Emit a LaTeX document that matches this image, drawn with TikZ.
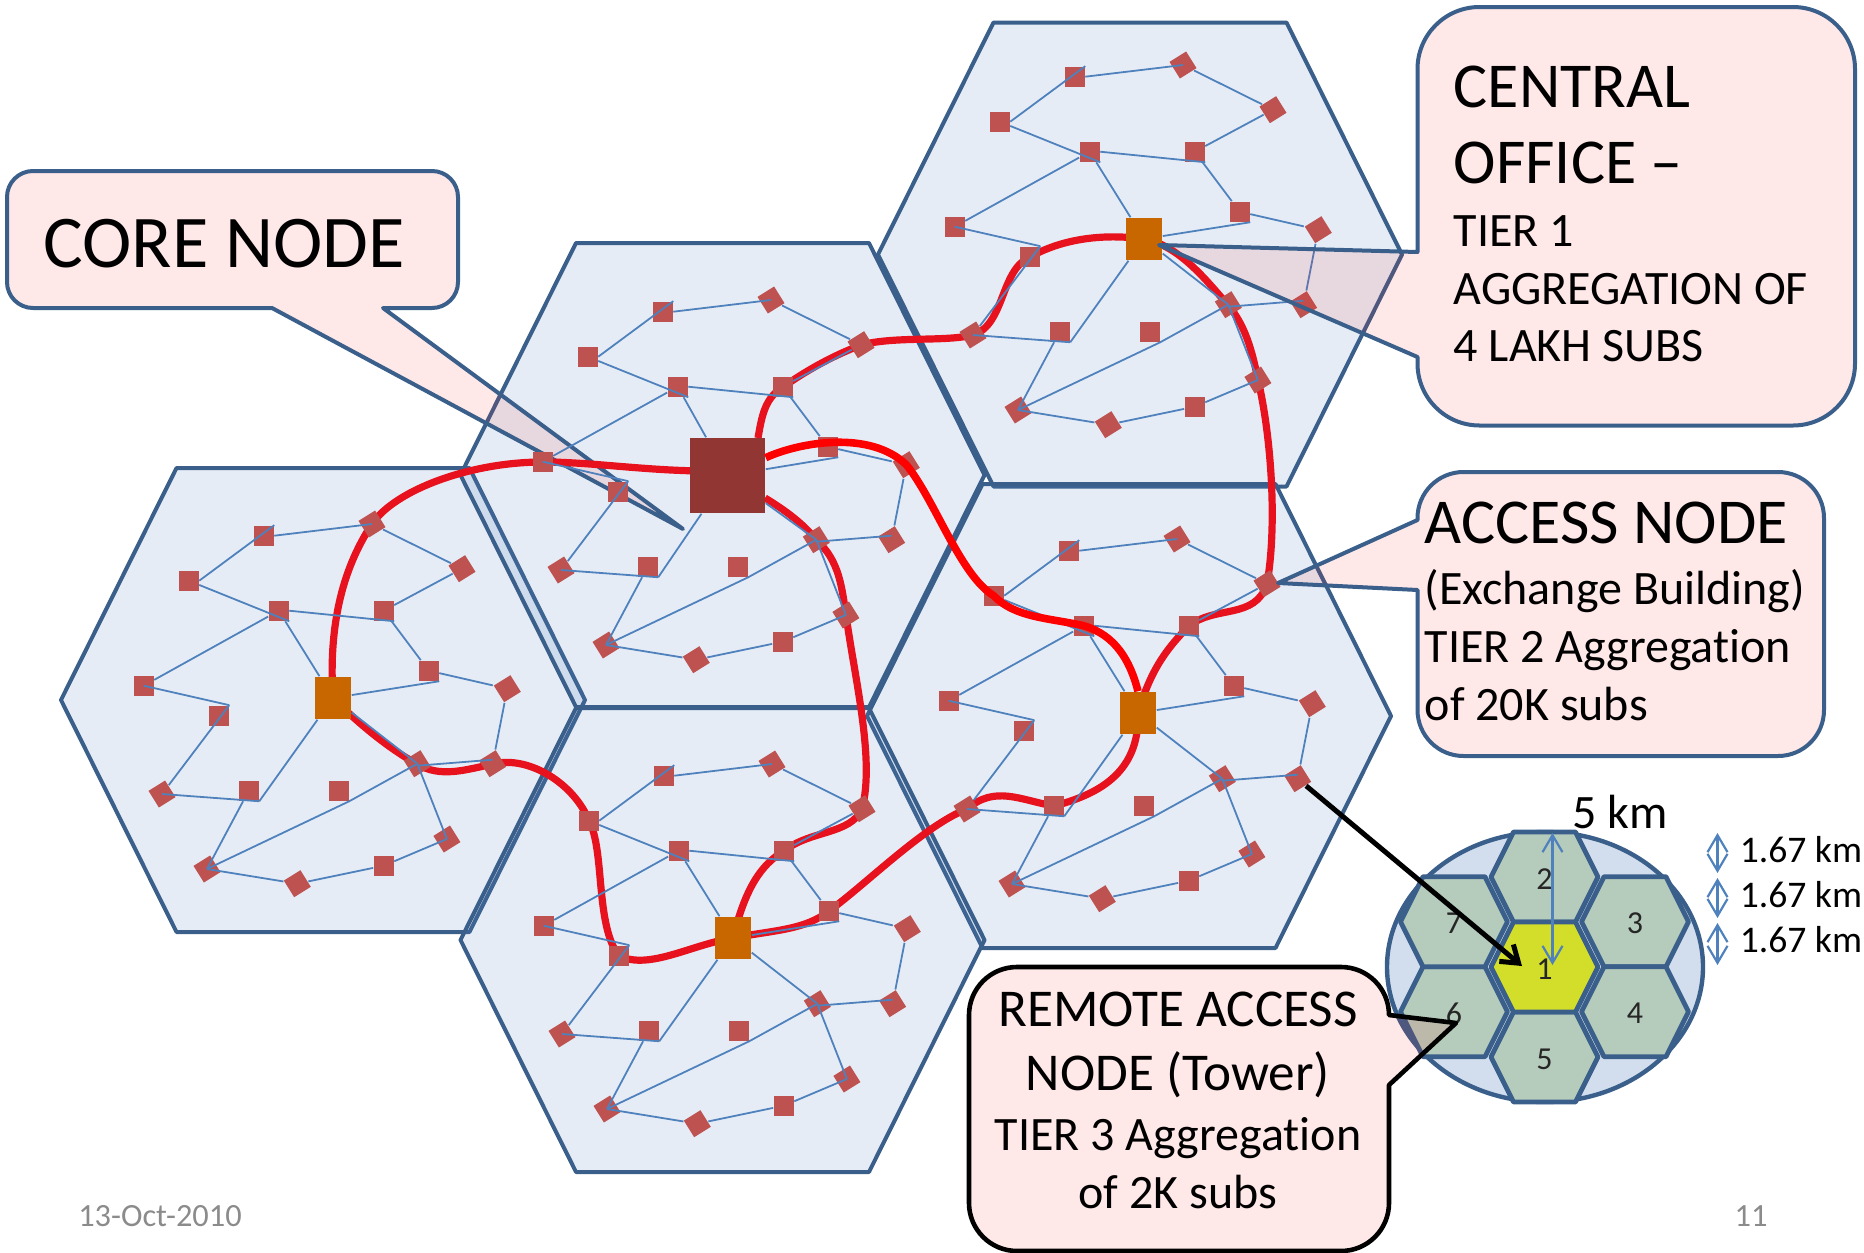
\documentclass[tikz,border=0pt]{standalone}
\usepackage{fontspec}
\setmainfont[Ligatures=NoCommon]{Carlito}
\usetikzlibrary{arrows.meta}

\definecolor{hexline}{RGB}{58,95,139}
\definecolor{netblue}{RGB}{79,129,189}
\definecolor{nodered}{RGB}{190,82,80}
\definecolor{hubor}{RGB}{200,102,0}
\definecolor{corered}{RGB}{146,54,52}
\definecolor{trunkred}{RGB}{232,18,30}
\definecolor{calloutred}{RGB}{255,30,30}
\definecolor{zonefill}{RGB}{210,222,238}
\definecolor{cellgreen}{RGB}{181,203,188}
\definecolor{cellyellow}{RGB}{210,222,42}
\definecolor{footgrey}{RGB}{139,139,139}

\tikzset{every picture/.style={line width=0.75pt},
  hexcell/.style={draw=hexline,line width=2pt,line join=round,fill=netblue,fill opacity=0.15},
  smallcell/.style={draw=hexline,line width=2.4pt,line join=round},
  sqnode/.style={fill=nodered,minimum width=9.8pt,minimum height=9.8pt,inner sep=0pt},
  dianode/.style={sqnode,rotate=32},
  hubnode/.style={fill=hubor,minimum width=18pt,minimum height=21pt,inner sep=0pt},
  corenode/.style={fill=corered,minimum width=37.5pt,minimum height=37.5pt,inner sep=0pt},
  netline/.style={draw=netblue,line width=0.9pt},
  trunk/.style={draw=trunkred,line width=3.6pt},
  trunktop/.style={draw=red,line width=3.8pt},
  callout/.style={draw=hexline,line width=2pt,fill=calloutred,fill opacity=0.1,line join=round},
  blackcallout/.style={callout,draw=black,line width=2.3pt},
  calltext/.style={inner sep=0pt,align=left,anchor=north west},
  bighead/.style={font=\fontsize{32}{38}\selectfont},
  subhead/.style={font=\fontsize{24}{28.8}\selectfont},
  kmarrow/.style={draw=netblue,line width=1.1pt,{Straight Barb[length=8.5pt,width=10pt]}-{Straight Barb[length=8.5pt,width=10pt]}},
  pointer/.style={draw=black,line width=2.5pt,-{Straight Barb[length=8pt,width=11pt]}}
}

\newcommand{\cellnet}[4]{%
  \foreach \k/\dx/\dy in {1/-69.3/-162.3,4/-144.3/-117.3,5/-54.3/-87.3,6/50.7/-87.3,7/95.7/-27.3,9/-189.3/-12.3,10/-114.3/17.7,14/-84.3/92.7,15/5.7/92.7,17/50.7/167.7}
    \node[sqnode] (#1n\k) at (#2+\dx,#3+\dy) {};
  \foreach \k/\dx/\dy in {2/39/-174,3/129/-129.3,8/174.3/-9.3,11/84.3/65.7,12/159.6/65.7,13/-171/96,16/113.9/141,18/-35.7/185.7,19/-126/171}
    \node[dianode] (#1n\k) at (#2+\dx,#3+\dy) {};
  #4
  \foreach \from/\to in {n4.east/n1.north east,n1.east/n2.center,n2/n3,n3/n6,n4/n5.south east,n5.east/n6.south east,n5/hub,n6/n7,n7/n8,hub/n7.south east,n5/n9,n9.center/n10.north east,n10.north east/n13,n13.center/n14.south east,n14.south east/hub,n8/n12,hub/n11.center,n11.center/n16.center,n16.center/n17,n17/n18,n18/n19.center,n19.center/n14}
    \draw[netline] (#1\from) -- (#1\to);
  \draw[netline] ([yshift=-2pt]#1n12.center) -- ([yshift=1pt]#1n11.center);
  \draw[netline] (#1n19.center) -- (#1n15.south east) -- (#1n11.center);
}

\begin{document}
\begin{tikzpicture}[x=0.5pt,y=0.5pt,yscale=-1]
\useasboundingbox (0,0) rectangle (1864,1253);

% Large cells
\foreach \cx/\cy in {323/700,722.5/475,1140/254.5,1129/716,722.5/940}
  \draw[hexcell] (\cx-262,\cy) -- (\cx-146.5,\cy-232) -- (\cx+146.5,\cy-232) -- (\cx+262,\cy) -- (\cx+146.5,\cy+232) -- (\cx-146.5,\cy+232) -- cycle;

% Core callout
\draw[callout] (272,308) [rounded corners=13pt] -- (7,308) -- (7,171) -- (458,171) -- (458,308) [sharp corners] -- (383,308) -- (683,529) -- cycle;

% Trunk curves, under the nodes
\coordinate (bcoretop) at (758,438);
\coordinate (bcoreright) at (765,498);
\draw[trunk] (333,698) .. controls (328,620) and (345,565) .. (372,524) .. controls (395,490) and (470,462) .. (543,462) .. controls (590,462) and (640,470) .. (700,471);
\draw[trunk] (bcoretop) .. controls (762,415) and (765,398) .. (783,387) .. controls (810,368) and (835,355) .. (861,345) .. controls (895,336) and (945,342) .. (973,335) .. controls (1005,325) and (1000,270) .. (1030,257) .. controls (1060,240) and (1100,233) .. (1144,239);
\draw[trunk] (1144,239) .. controls (1180,245) and (1210,285) .. (1228,305) .. controls (1245,325) and (1252,350) .. (1258,380) .. controls (1270,430) and (1278,520) .. (1267,584) .. controls (1255,620) and (1215,605) .. (1189,626) .. controls (1165,650) and (1150,672) .. (1138,713);
\draw[trunk] (bcoreright) .. controls (785,510) and (805,525) .. (816,540) .. controls (840,560) and (842,590) .. (846,615) .. controls (855,680) and (875,760) .. (862,809) .. controls (850,835) and (810,830) .. (784,851) .. controls (760,865) and (745,890) .. (733,938);
\draw[trunk] (333,698) .. controls (365,730) and (395,752) .. (417,764) .. controls (440,778) and (465,770) .. (493,764) .. controls (530,755) and (575,785) .. (589,821) .. controls (605,850) and (595,925) .. (619,956) .. controls (650,970) and (690,945) .. (733,938);
\draw[trunk] (733,938) .. controls (775,930) and (805,930) .. (829,911) .. controls (865,885) and (925,825) .. (967,809) .. controls (995,785) and (1020,800) .. (1054,806) .. controls (1095,795) and (1140,775) .. (1138,713);

% Nodes of each cell
\cellnet{a}{1144}{239}{\node[hubnode] (ahub) at (1144,239) {};}
\cellnet{b}{732}{474}{\node[corenode] (bhub) at (727.5,475.5) {};}
\cellnet{c}{333}{698}{\node[hubnode] (chub) at (333,698) {};}
\cellnet{d}{733}{938}{\node[hubnode] (dhub) at (733,938) {};}
\cellnet{e}{1138}{713}{\node[hubnode] (ehub) at (1138,713) {};}

% Trunk curve over the nodes
\draw[trunktop] (bhub.25) .. controls (800,442) and (870,430) .. (bn8.center) .. controls (935,500) and (960,575) .. (en4.center) .. controls (1015,618) and (1050,618) .. (en5.center) .. controls (1115,635) and (1130,660) .. (ehub.north);

% Zone with small cells
\draw[draw=hexline,line width=2.2pt,fill=zonefill] (1545,967) ellipse [x radius=158,y radius=135];
\foreach \i/\cx/\cy/\col in {2/1544.5/877/cellgreen,3/1635/921.7/cellgreen,4/1635/1011.7/cellgreen,5/1544.5/1057/cellgreen,6/1454/1011.7/cellgreen,7/1454/921.7/cellgreen,1/1544.5/967/cellyellow}{
  \draw[smallcell,fill=\col] (\cx-53.5,\cy) -- (\cx-31,\cy-45) -- (\cx+31,\cy-45) -- (\cx+53.5,\cy) -- (\cx+31,\cy+45) -- (\cx-31,\cy+45) -- cycle;
  \node[inner sep=0pt,font=\fontsize{16}{19}\selectfont,text=black!85] (small\i) at (\cx,\cy+2) {\i};
}

% Other callouts
\draw[callout] (1417.5,252) [rounded corners=31pt] -- (1417.5,7) -- (1855,7) -- (1855,425.5) -- (1417.5,425.5) [sharp corners] -- (1417.5,357) -- (1159,245) -- cycle;
\draw[callout] (1417.5,520) [rounded corners=23pt] -- (1417.5,472) -- (1824,472) -- (1824,756) -- (1417.5,756) [sharp corners] -- (1417.5,590) -- (1278,583) -- cycle;
\draw[blackcallout] (1389,1015) [rounded corners=24pt] -- (1389,967) -- (969,967) -- (969,1251) -- (1389,1251) [sharp corners] -- (1389,1085) -- (1456,1023) -- cycle;

% Arrows
\coordinate (zonetip) at (1522,966);
\draw[pointer] (en12) -- (zonetip);
\coordinate (kmtop) at (1552.5,833);
\coordinate (kmlow) at (1552.5,965);
\draw[kmarrow] (kmtop) -- (kmlow);
\foreach \i/\ya/\yb in {1/833/873,2/878/918,3/923/965}{
  \coordinate (leg\i a) at (1717.5,\ya);
  \coordinate (leg\i b) at (1717.5,\yb);
  \draw[kmarrow] (leg\i a) -- (leg\i b);
}

% Text Node
\node[inner sep=0pt,font=\fontsize{37.2}{44}\selectfont] (coretext) at (224,244) {CORE NODE};
\node[calltext,bighead] (officehead) at (1453,65) {CENTRAL\\OFFICE --};
\node[calltext,subhead] (officesub) at (1453,215) {TIER 1\\AGGREGATION OF\\4 LAKH SUBS};
\node[calltext,bighead] (accesshead) at (1424,501) {ACCESS NODE};
\node[calltext,subhead] (accesssub) at (1424,569) {(Exchange Building)\\TIER 2 Aggregation\\of 20K subs};
\node[calltext,align=center,anchor=north,font=\fontsize{26.6}{32}\selectfont] (remotehead) at (1178,991.5) {REMOTE ACCESS\\NODE (Tower)};
\node[calltext,subhead,align=center,anchor=north] (remotesub) at (1178,1117) {TIER 3 Aggregation\\of 2K subs};
\node[inner sep=0pt,font=\fontsize{24}{28}\selectfont] (kmtext) at (1620,812) {5 km};
\foreach \i/\y in {1/850,2/895,3/940}
  \node[inner sep=0pt,anchor=west,font=\fontsize{18.8}{22}\selectfont] (legtext\i) at (1739,\y) {1.67 km};
\node[inner sep=0pt,font=\fontsize{16.2}{19}\selectfont,text=footgrey] (datetext) at (160,1216) {13-Oct-2010};
\node[inner sep=0pt,font=\fontsize{16.2}{19}\selectfont,text=footgrey] (pagetext) at (1751,1216) {11};

\end{tikzpicture}
\end{document}
